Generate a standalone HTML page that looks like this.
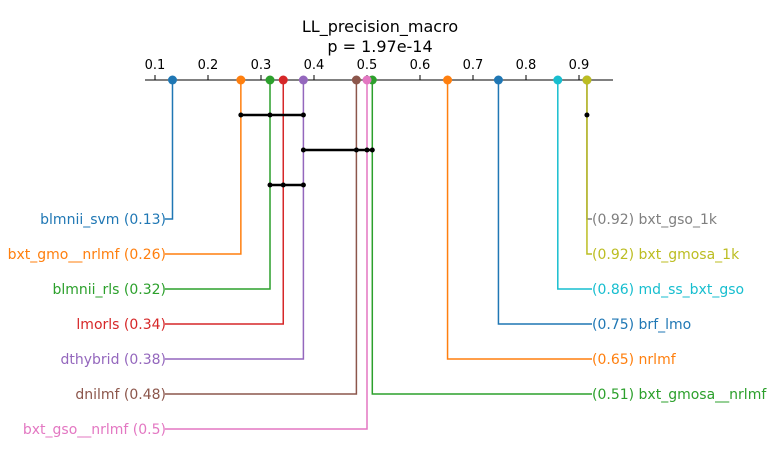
<!DOCTYPE html>
<html><head><meta charset="utf-8"><style>
body{margin:0;background:#fff;}
svg text{font-family:"DejaVu Sans","Liberation Sans",sans-serif;}
</style></head><body>
<svg id="chart" width="774" height="462" xmlns="http://www.w3.org/2000/svg">
<text x="380" y="32" text-anchor="middle" font-size="16">LL_precision_macro</text>
<text x="380" y="52" text-anchor="middle" font-size="16">p = 1.97e-14</text>
<g id="axis"></g><g id="marks"></g>
</svg>
<script>
const names=["blmnii_svm","bxt_gmo__nrlmf","blmnii_rls","lmorls","dthybrid","dnilmf","bxt_gso__nrlmf","bxt_gmosa__nrlmf","nrlmf","brf_lmo","md_ss_bxt_gso","bxt_gmosa_1k","bxt_gso_1k"];
const values=[0.133,0.262,0.317,0.342,0.38,0.48,0.5,0.51,0.652,0.748,0.86,0.915,0.915];
const labels=["0.13","0.26","0.32","0.34","0.38","0.48","0.5","0.51","0.65","0.75","0.86","0.92","0.92"];
const sides=["L","L","L","L","L","L","L","R","R","R","R","R","R"];
const colors=["#1f77b4","#ff7f0e","#2ca02c","#d62728","#9467bd","#8c564b","#e377c2","#2ca02c","#ff7f0e","#1f77b4","#17becf","#bcbd22","#7f7f7f"];
const ticks=[0.1,0.2,0.3,0.4,0.5,0.6,0.7,0.8,0.9];
const cliques=[[0.262,0.38],[0.38,0.51],[0.317,0.38],[0.915,0.915]];
const cliqueMembers=[[0.262,0.317,0.38],[0.38,0.48,0.5,0.51],[0.317,0.342,0.38],[0.915]];
const NS="http://www.w3.org/2000/svg";
const X=v=>155+(v-0.1)*530;
const AY=80;
function mk(t,a,p){const e=document.createElementNS(NS,t);for(const k in a)e.setAttribute(k,a[k]);p.appendChild(e);return e;}
const ax=document.getElementById('axis'),mg=document.getElementById('marks');
let l=mk('line',{x1:145,x2:613,y1:AY,y2:AY,stroke:'#000','stroke-width':1},ax);


ticks.forEach(t=>{
 let tl=mk('line',{x1:X(t),x2:X(t),y1:AY-5,y2:AY,stroke:'#000'},ax);
 
 
 let tx=mk('text',{x:X(t),y:AY-11,'text-anchor':'middle','font-size':13},ax);tx.textContent=t.toFixed(1);
 
 
});
const ys=[219,254,289,324,359,394,429];
const order=names.map((n,i)=>i);
const rightIdx=order.filter(i=>sides[i]=="R").sort((a,b)=>values[b]-values[a]||b-a);
const yOf={};
order.filter(i=>sides[i]=="L").forEach((i,k)=>yOf[i]=ys[k]);
rightIdx.forEach((i,k)=>yOf[i]=ys[k]);
for(let i=names.length-1;i>=0;i--){
 const x=X(values[i]),y=yOf[i],c=colors[i];
 const ex=sides[i]=="L"?165:592;
 let p=mk('polyline',{points:`${x},${AY} ${x},${y} ${ex},${y}`,fill:'none',stroke:c,'stroke-width':1.5},mg);
 
 
 let t=mk('text',{x:sides[i]=="L"?166:592,y:y+5,'text-anchor':sides[i]=="L"?'end':'start','font-size':14,fill:c},mg);
 t.textContent=sides[i]=="L"?`${names[i]} (${labels[i]})`:`(${labels[i]}) ${names[i]}`;
 
 
}
for(let i=names.length-1;i>=0;i--){
 let m=mk('circle',{cx:X(values[i]),cy:AY,r:4.5,fill:colors[i]},mg);
 
 
}
cliques.forEach((c,k)=>{
 const yy=k==3?115:115+35*k;
 let cl=mk('line',{x1:X(c[0]),x2:X(c[1]),y1:yy,y2:yy,stroke:'#000','stroke-width':2.5},mg);
 
 
 cliqueMembers[k].forEach(v=>{
  let d=mk('circle',{cx:X(v),cy:yy,r:2.5,fill:'#000'},mg);
  
  
 });
});
</script>
</body></html>
